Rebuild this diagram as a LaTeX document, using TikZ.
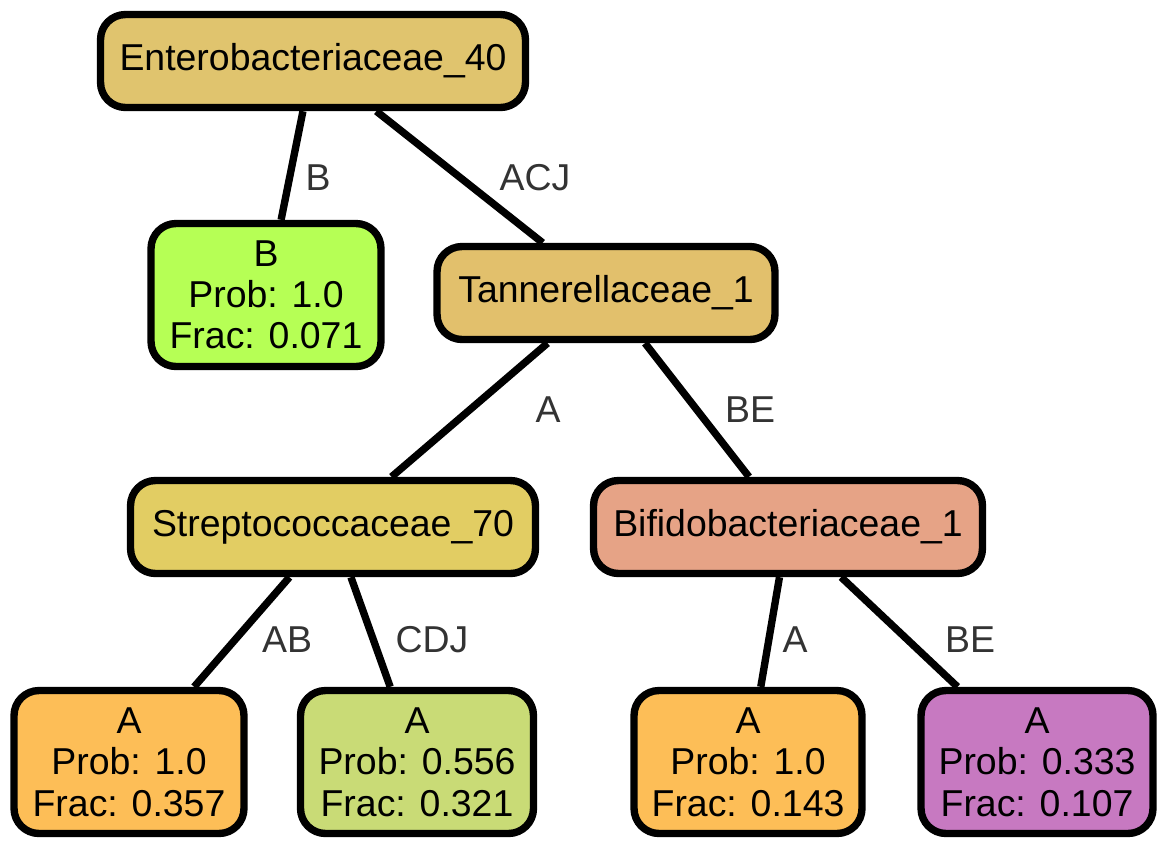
\documentclass[tikz,border=0pt]{standalone}
\usepackage{fontspec}
\setmainfont{Liberation Sans}
\definecolor{cEntero}{HTML}{E0C46E}
\definecolor{cTann}{HTML}{E2C06C}
\definecolor{cStrep}{HTML}{E2CD63}
\definecolor{cBifido}{HTML}{E6A386}
\definecolor{cOrange}{HTML}{FDBE57}
\definecolor{cGreen}{HTML}{C9DB76}
\definecolor{cLime}{HTML}{B6FF55}
\definecolor{cPurple}{HTML}{C779C1}
\definecolor{cLabel}{HTML}{333333}

\begin{document}
\begin{tikzpicture}[x=0.02cm,y=-0.02cm,line width=4.2pt,
  tnode/.style={draw,rounded corners=0.5cm,align=center,inner sep=0pt,
    font=\fontsize{21.3}{23.5}\selectfont},
  inner/.style={tnode,minimum height=1.86cm},
  leaf/.style={tnode,minimum height=2.86cm},
  elabel/.style={text=cLabel,font=\fontsize{21.3}{23.5}\selectfont}]
  \useasboundingbox (0,0) rectangle (1168,846);
  % inner nodes
  \node[inner,fill=cEntero,minimum width=8.5cm] (entero) at (313,61) {Enterobacteriaceae\_40};
  \node[inner,fill=cTann,minimum width=6.76cm] (tann) at (606,293) {Tannerellaceae\_1};
  \node[inner,fill=cStrep,minimum width=8.1cm] (strep) at (333,527) {Streptococcaceae\_70};
  \node[inner,fill=cBifido,minimum width=7.78cm] (bifido) at (788,527) {Bifidobacteriaceae\_1};
  % leaves
  \node[leaf,fill=cLime,minimum width=4.6cm] (leafB) at (266,295) {B\\Prob: 1.0\\Frac: 0.071};
  \node[leaf,fill=cOrange,minimum width=4.6cm] (leafA1) at (129,762) {A\\Prob: 1.0\\Frac: 0.357};
  \node[leaf,fill=cGreen,minimum width=4.66cm] (leafA2) at (417,762) {A\\Prob: 0.556\\Frac: 0.321};
  \node[leaf,fill=cOrange,minimum width=4.56cm] (leafA3) at (748,762) {A\\Prob: 1.0\\Frac: 0.143};
  \node[leaf,fill=cPurple,minimum width=4.64cm] (leafA4) at (1037,762) {A\\Prob: 0.333\\Frac: 0.107};
  % edges
  \draw (entero) -- (leafB);
  \draw (entero) -- (tann);
  \draw (tann) -- (strep);
  \draw (tann) -- (bifido);
  \draw (strep) -- (leafA1);
  \draw (strep) -- (leafA2);
  \draw (bifido) -- (leafA3);
  \draw (bifido) -- (leafA4);
  % edge labels
  \node[elabel] (lblB) at (318,178) {B};
  \node[elabel] (lblACJ) at (535,178) {ACJ};
  \node[elabel] (lblA) at (548,410) {A};
  \node[elabel] (lblBE) at (750,410) {BE};
  \node[elabel] (lblAB) at (287,640) {AB};
  \node[elabel] (lblCDJ) at (432,640) {CDJ};
  \node[elabel] (lblA2) at (795,640) {A};
  \node[elabel] (lblBE2) at (970,640) {BE};
\end{tikzpicture}
\end{document}
